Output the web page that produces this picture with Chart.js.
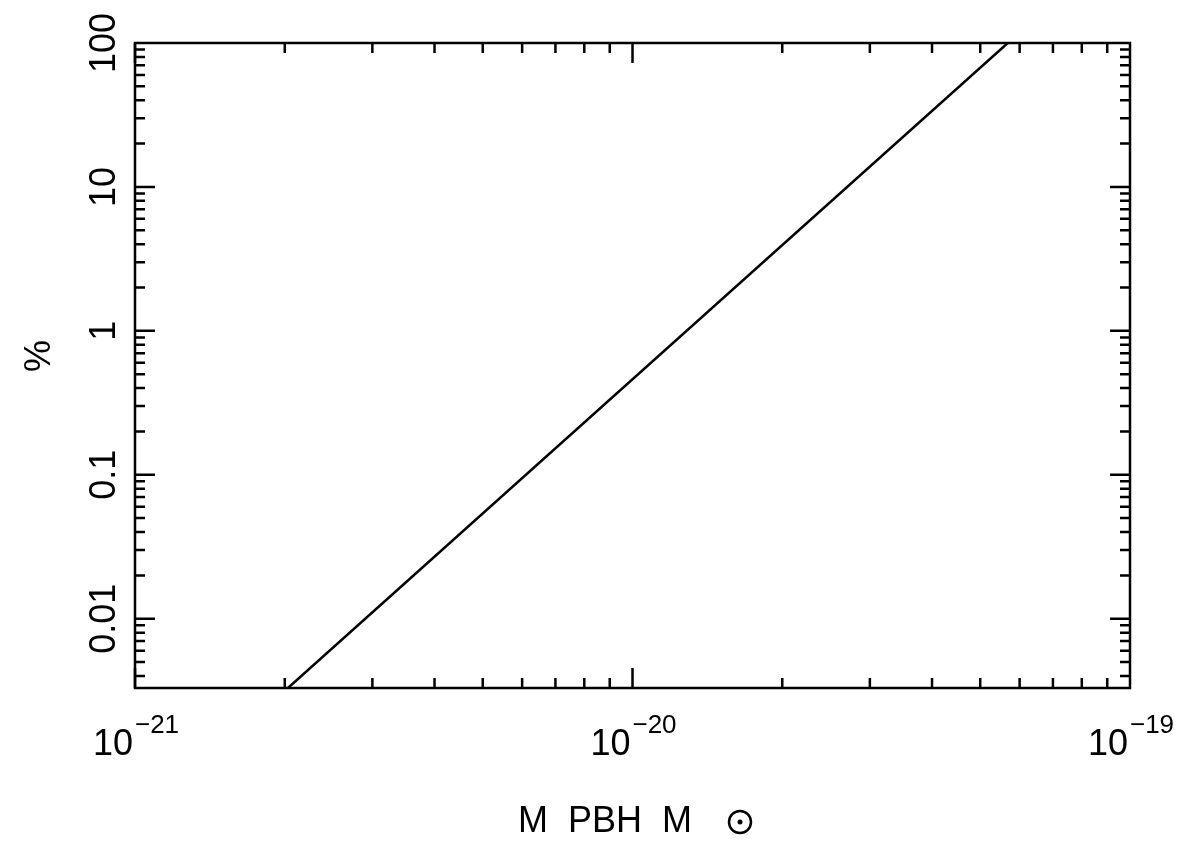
<!DOCTYPE html><html><head><script src="https://cdn.jsdelivr.net/npm/chart.js@4"></script>
<style>body{margin:0;background:#fff}#w{width:1200px;height:857px}</style></head><body><div id="w"><canvas id="c"></canvas></div>
<script>
const lineX=[2.03e-21,5.68e-20];
const lineY=[0.0033,100];
const xMajors=[1e-21,1e-20,1e-19];
const xExps=["−21","−20","−19"];
const yMajors=[0.01,0.1,1,10,100];
const yLabels=["0.01","0.1","1","10","100"];
const xTitle="M  PBH  M";
const yTitle="%";
const X0=1e-21,X1=1e-19,Y0=0.0033,Y1=100;
const deco={id:'deco',afterDraw(ch){
 const c=ch.ctx,a=ch.chartArea,xs=ch.scales.x,ys=ch.scales.y;
 c.save();c.strokeStyle='#000';c.fillStyle='#000';c.lineWidth=2.5;
 c.strokeRect(a.left,a.top,a.right-a.left,a.bottom-a.top);
 c.beginPath();
 for(let e=-21;e<-19;e++)for(let m=1;m<10;m++){const v=m*Math.pow(10,e);const p=xs.getPixelForValue(v);if(p<a.left-1||p>a.right+1)continue;const L=m==1?20:10;
  c.moveTo(p,a.bottom);c.lineTo(p,a.bottom-L);c.moveTo(p,a.top);c.lineTo(p,a.top+L);}
 for(let e=-3;e<2;e++)for(let m=1;m<10;m++){const v=m*Math.pow(10,e);if(v<Y0||v>Y1)continue;const p=ys.getPixelForValue(v);const L=m==1?20:10;
  c.moveTo(a.left,p);c.lineTo(a.left+L,p);c.moveTo(a.right,p);c.lineTo(a.right-L,p);}
 c.stroke();
 c.font='36px "Liberation Sans",Arial';c.textBaseline='alphabetic';
 xMajors.forEach((v,i)=>{const p=xs.getPixelForValue(v);c.font='36px "Liberation Sans"';const w1=c.measureText('10').width;c.font='26px "Liberation Sans"';const w2=c.measureText(xExps[i]).width;
  const s=p-(w1+w2)/2;c.font='36px "Liberation Sans"';c.textAlign='left';c.fillText('10',s,755);c.font='26px "Liberation Sans"';c.fillText(xExps[i],s+w1+2,733);});
 c.font='36px "Liberation Sans"';c.textAlign='center';
 yMajors.forEach((v,i)=>{const p=ys.getPixelForValue(v);c.save();c.translate(115,p);c.rotate(-Math.PI/2);c.fillText(yLabels[i],0,0);c.restore();});
 c.save();c.translate(50,356);c.rotate(-Math.PI/2);c.fillText(yTitle,0,0);c.restore();
 c.textAlign='left';c.fillText(xTitle,518,832);
 c.beginPath();c.arc(740,822,11,0,Math.PI*2);c.lineWidth=2.5;c.stroke();c.beginPath();c.arc(740,822,2.5,0,Math.PI*2);c.fill();
 c.restore();}};
new Chart(document.getElementById('c'),{type:'line',
 data:{datasets:[{data:lineX.map((x,i)=>({x,y:lineY[i]})),borderColor:'#000',borderWidth:2.5,pointRadius:0,fill:false}]},
 options:{responsive:true,maintainAspectRatio:false,animation:false,
  layout:{padding:{left:135,right:70,top:43,bottom:169}},
  plugins:{legend:{display:false},tooltip:{enabled:false}},
  scales:{x:{type:'logarithmic',min:X0,max:X1,display:false},y:{type:'logarithmic',min:Y0,max:Y1,display:false}}},
 plugins:[deco]});
</script></body></html>
